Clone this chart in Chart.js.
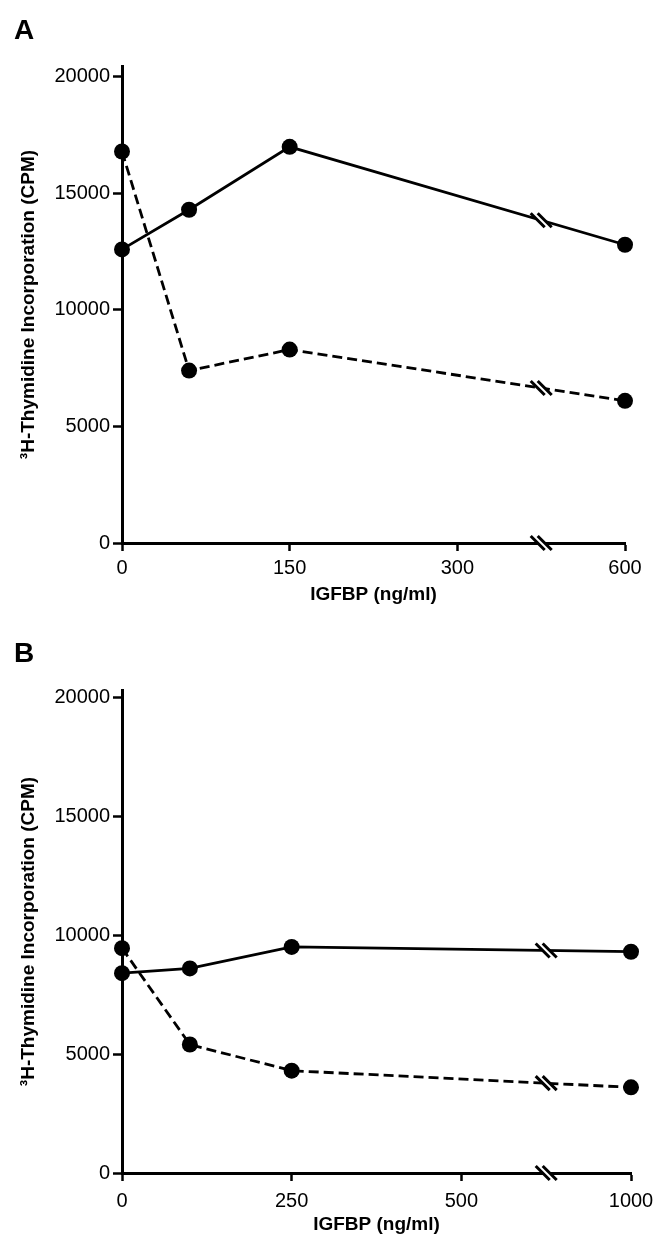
<!DOCTYPE html>
<html>
<head>
	<title> IGFBP Thymidine Incorporation </title>
	<script src="https://cdn.jsdelivr.net/npm/chart.js@4.4.0/dist/chart.umd.min.js"></script>
	<style>
		body { margin: 0; background: #fff; }
		canvas { display: block; }
	</style>
</head>
<body>
	<canvas id="chartA" width="654" height="620"></canvas>
	<canvas id="chartB" width="654" height="619"></canvas>
	<script type="text/javascript">
		// panel A
		var doseA = [0, 60, 150, 600];
		var solidA = [12600, 14300, 17000, 12800];
		var dashedA = [16800, 7400, 8300, 6100];
		var xTicksA = [0, 150, 300, 600];
		var breakA = 300;

		// panel B
		var doseB = [0, 100, 250, 1000];
		var solidB = [8400, 8600, 9500, 9300];
		var dashedB = [9450, 5400, 4300, 3600];
		var xTicksB = [0, 250, 500, 1000];
		var breakB = 500;

		var yTicks = [0, 5000, 10000, 15000, 20000];
		var FONT = '"Liberation Sans", Arial, Helvetica, sans-serif';

		// axis break: everything past brk is drawn at half scale
		function shrink(v, brk) {
			return v <= brk ? v : brk + (v - brk) * 0.5;
		}

		var panelLetter = {
			id: 'panelLetter',
			afterDraw: function(chart, args, opts) {
				var ctx = chart.ctx;
				ctx.save();
				ctx.fillStyle = '#000';
				ctx.font = 'bold 28px ' + FONT;
				ctx.textBaseline = 'alphabetic';
				ctx.fillText(opts.text, opts.x, opts.y);
				ctx.restore();
			}
		};

		var breakMarks = {
			id: 'breakMarks',
			afterDraw: function(chart, args, opts) {
				var ctx = chart.ctx;
				var xs = chart.scales.x, ys = chart.scales.y;
				var bx = xs.getPixelForValue(opts.at);
				var spots = [chart.chartArea.bottom];
				chart.data.datasets.forEach(function(ds) {
					var p = ds.data;
					for (var k = 0; k < p.length - 1; k++) {
						if (p[k].x <= opts.at && p[k + 1].x >= opts.at) {
							var t = (opts.at - p[k].x) / (p[k + 1].x - p[k].x);
							spots.push(ys.getPixelForValue(p[k].y + t * (p[k + 1].y - p[k].y)));
						}
					}
				});
				spots.forEach(function(py) {
					ctx.save();
					ctx.translate(bx, py);
					ctx.fillStyle = '#fff';
					ctx.beginPath();
					ctx.moveTo(-3.5 - 7, -7);
					ctx.lineTo(3.5 - 7, -7);
					ctx.lineTo(3.5 + 7, 7);
					ctx.lineTo(-3.5 + 7, 7);
					ctx.closePath();
					ctx.fill();
					ctx.strokeStyle = '#000';
					ctx.lineWidth = 3;
					[-3.5, 3.5].forEach(function(c) {
						ctx.beginPath();
						ctx.moveTo(c - 7, -7);
						ctx.lineTo(c + 7, 7);
						ctx.stroke();
					});
					ctx.restore();
				});
			}
		};

		function makePanel(id, letter, dose, solid, dashed, xTicks, brk, box) {
			var pts = function(vals) {
				return dose.map(function(d, i) { return {x: shrink(d, brk), y: vals[i]}; });
			};
			var lineStyle = {
				borderColor: '#000',
				borderWidth: 2.8,
				pointRadius: 8,
				pointHoverRadius: 8,
				pointBackgroundColor: '#000',
				pointBorderWidth: 0,
				tension: 0,
				clip: false,
				fill: false
			};
			var ctx = document.getElementById(id).getContext('2d');
			return new Chart(ctx, {
				type: 'line',
				data: {
					datasets: [
						Object.assign({label: 'solid', data: pts(solid)}, lineStyle),
						Object.assign({label: 'dashed', data: pts(dashed), borderDash: [10, 5]}, lineStyle)
					]
				},
				plugins: [breakMarks, panelLetter],
				options: {
					responsive: false,
					animation: false,
					events: [],
					layout: { padding: {left: 10, right: box.right, top: box.top, bottom: 0} },
					plugins: {
						legend: {display: false},
						tooltip: {enabled: false},
						breakMarks: {at: shrink(xTicks[3], brk) - (shrink(xTicks[3], brk) - brk) / 2},
						panelLetter: {text: letter, x: 14, y: box.letterY}
					},
					scales: {
						x: {
							type: 'linear',
							min: 0,
							max: shrink(xTicks[3], brk),
							afterBuildTicks: function(s) {
								s.ticks = xTicks.map(function(v) { return {value: shrink(v, brk)}; });
							},
							afterFit: function(s) {
								s.height = box.xHeight;
								s.paddingLeft = 0;
								s.paddingRight = 0;
							},
							ticks: {
								color: '#000',
								font: {family: FONT, size: 20},
								padding: box.xPad,
								maxRotation: 0,
								autoSkip: false,
								callback: function(v, i) { return xTicks[i]; }
							},
							grid: {drawOnChartArea: false, tickLength: 8, tickWidth: 2.5, tickColor: '#000'},
							border: {color: '#000', width: 3},
							title: {
								display: true,
								text: 'IGFBP (ng/ml)',
								color: '#000',
								font: {family: FONT, size: 19, weight: 'bold'},
								padding: {top: 0, bottom: box.titlePad}
							}
						},
						y: {
							min: 0,
							max: box.yMax,
							afterBuildTicks: function(s) {
								s.ticks = yTicks.map(function(v) { return {value: v}; });
							},
							afterFit: function(s) {
								s.width = 112;
								s.paddingTop = 0;
								s.paddingBottom = 0;
							},
							ticks: {
								color: '#000',
								font: {family: FONT, size: 20},
								padding: 3,
								callback: function(v) { return String(v); }
							},
							grid: {drawOnChartArea: false, tickLength: 9, tickWidth: 2.5, tickColor: '#000'},
							border: {color: '#000', width: 3},
							title: {
								display: true,
								text: '\u00B3H-Thymidine Incorporation (CPM)',
								color: '#000',
								font: {family: FONT, size: 19, weight: 'bold'},
								padding: {top: 7, bottom: 0}
							}
						}
					}
				}
			});
		}

		makePanel('chartA', 'A', doseA, solidA, dashedA, xTicksA, breakA,
			{right: 29, top: 66, yMax: 20470, xHeight: 77, xPad: 5, titlePad: 14, letterY: 39});
		makePanel('chartB', 'B', doseB, solidB, dashedB, xTicksB, breakB,
			{right: 23, top: 70, yMax: 20300, xHeight: 66, xPad: 8, titlePad: 3, letterY: 42});
	</script>
</body>
</html>
